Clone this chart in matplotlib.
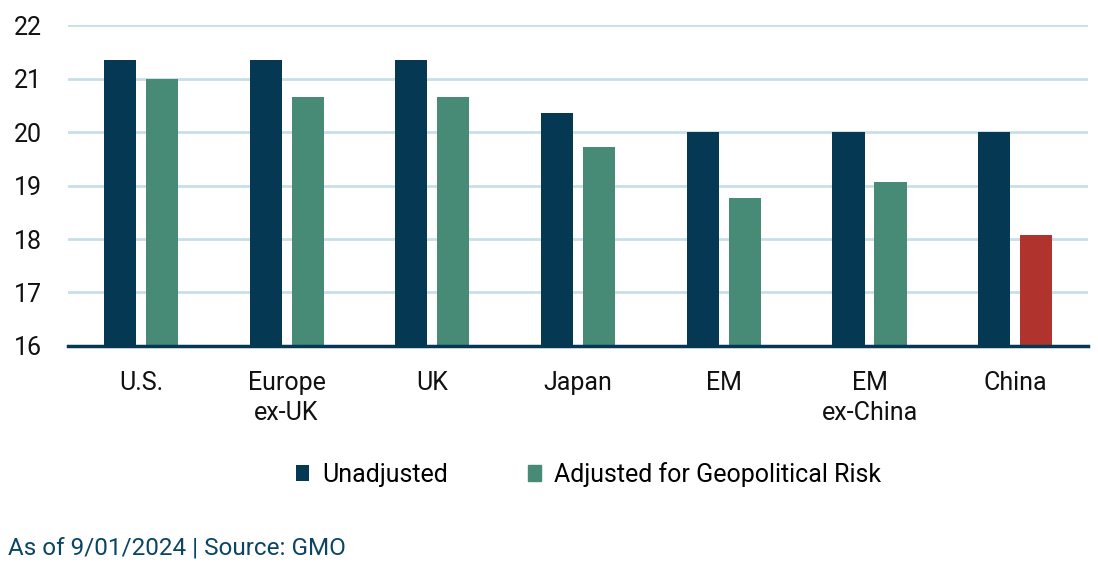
import numpy as np
import matplotlib.pyplot as plt

categories = ["U.S.", "Europe\nex-UK", "UK", "Japan", "EM", "EM\nex-China", "China"]
unadjusted = [21.35, 21.35, 21.35, 20.36, 20.0, 20.0, 20.0]
adjusted = [20.99, 20.65, 20.65, 19.72, 18.77, 19.07, 18.08]

navy = "#053853"
green = "#478a76"
red = "#b0342d"
grid_col = "#c9dfe8"

plt.rcParams["font.family"] = ["Roboto", "DejaVu Sans"]

fig = plt.figure(figsize=(10.98, 5.66), dpi=100)
ax = fig.add_axes([0.0619, 0.3887, 0.9291, 0.5671])

x = np.arange(len(categories))
w = 0.22
adj_colors = [green] * (len(categories) - 1) + [red]
ax.bar(x - 0.144, [u - 16 for u in unadjusted], w, bottom=16, color=navy, zorder=3,
       label="Unadjusted")
ax.bar(x + 0.144, [a - 16 for a in adjusted], w, bottom=16, color=adj_colors, zorder=3,
       label="Adjusted for Geopolitical Risk")

ax.set_xlim(-0.5, len(categories) - 0.5)
ax.set_ylim(16, 22)
ax.set_yticks(range(16, 23))
ax.yaxis.grid(True, color=grid_col, linewidth=2, zorder=0)
ax.set_axisbelow(True)

for s in ["top", "right", "left"]:
    ax.spines[s].set_visible(False)
ax.spines["bottom"].set_color(navy)
ax.spines["bottom"].set_linewidth(2.5)
ax.spines["bottom"].set_zorder(4)

ax.set_xticks(x)
ax.set_xticklabels(categories, linespacing=1.3)
ax.tick_params(axis="both", length=0, labelsize=18, colors="#111111")
ax.tick_params(axis="y", pad=19)
ax.tick_params(axis="x", pad=18)

# legend below the axes
leg = ax.legend(loc="center", bbox_to_anchor=(0.51, -0.4), ncol=2, frameon=False,
                fontsize=18, handlelength=0.55, handleheight=0.55, handletextpad=0.5,
                columnspacing=3.2)
leg.legend_handles[1].set_color(green)

fig.text(0.007, 0.012, "As of 9/01/2024 | Source: GMO", fontsize=17.5, color="#0b4566",
         ha="left", va="bottom")

fig.savefig("out.png", dpi=100)
